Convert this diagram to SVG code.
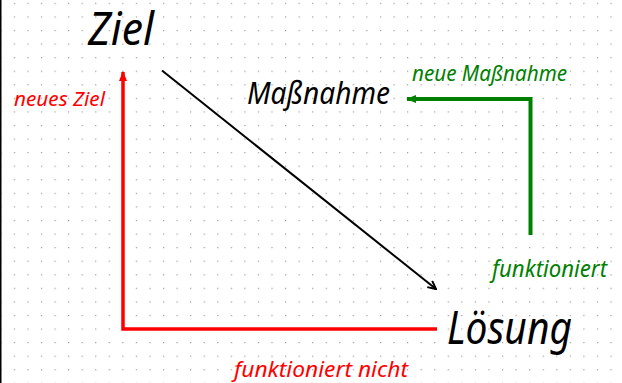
<svg xmlns="http://www.w3.org/2000/svg" width="622" height="383" viewBox="0 0 622 383">
<defs>
<pattern id="dots" patternUnits="userSpaceOnUse" x="13.8" y="2.8" width="13.56" height="13.57">
<rect x="0" y="0" width="1.2" height="1.2" fill="#9a9a9a"/>
</pattern>
<marker id="arrRed" markerUnits="userSpaceOnUse" markerWidth="10" markerHeight="10" viewBox="0 0 10 10" refX="9" refY="5" orient="auto">
<path d="M0,1 L10,5 L0,9 Z" fill="#ff0000"/>
</marker>
<marker id="arrGreen" markerUnits="userSpaceOnUse" markerWidth="10" markerHeight="10" viewBox="0 0 10 10" refX="9" refY="5" orient="auto">
<path d="M0,1 L10,5 L0,9 Z" fill="#008000"/>
</marker>
<marker id="arrBlack" markerUnits="userSpaceOnUse" markerWidth="10" markerHeight="10" viewBox="0 0 10 10" refX="9" refY="5" orient="auto">
<path d="M1,1 L9,5 L1,9" fill="none" stroke="#000" stroke-width="2"/>
</marker>
</defs>
<style>
text { font-family: "Noto Sans", "Open Sans", sans-serif; font-style: italic; }
.big { font-size: 45px; fill: #000; }
.mid { font-size: 31px; fill: #000; }
.red { fill: #ff0000; }
.green { fill: #008000; }
</style>
<rect width="622" height="383" fill="#ffffff"/>
<rect width="622" height="383" fill="url(#dots)"/>
<rect x="0" y="0" width="1.5" height="383" fill="#000"/>
<g id="connectors" fill="none">
<path d="M437,329 H123 V72" stroke="#ff0000" stroke-width="3.5" marker-end="url(#arrRed)"/>
<path d="M530.5,235 V99 H407" stroke="#008000" stroke-width="4" marker-end="url(#arrGreen)"/>
<path d="M162,70.5 L436,289" stroke="#000" stroke-width="2" marker-end="url(#arrBlack)"/>
</g>
<g id="ziel"><text class="big" x="88" y="45" textLength="66" lengthAdjust="spacingAndGlyphs">Ziel</text></g>
<g id="massnahme"><text class="mid" x="247" y="104" textLength="143" lengthAdjust="spacingAndGlyphs">Maßnahme</text></g>
<g id="loesung"><text class="big" x="447" y="344" font-size="43" textLength="125" lengthAdjust="spacingAndGlyphs">Lösung</text></g>
<g id="labels">
<text class="red" x="14" y="106" font-size="19" textLength="91" lengthAdjust="spacingAndGlyphs">neues Ziel</text>
<text class="green" x="412" y="81" font-size="22" textLength="155" lengthAdjust="spacingAndGlyphs">neue Maßnahme</text>
<text class="green" x="492" y="277" font-size="23" textLength="115" lengthAdjust="spacingAndGlyphs">funktioniert</text>
<text class="red" x="234" y="377" font-size="22" textLength="174" lengthAdjust="spacingAndGlyphs">funktioniert nicht</text>
</g>
</svg>
